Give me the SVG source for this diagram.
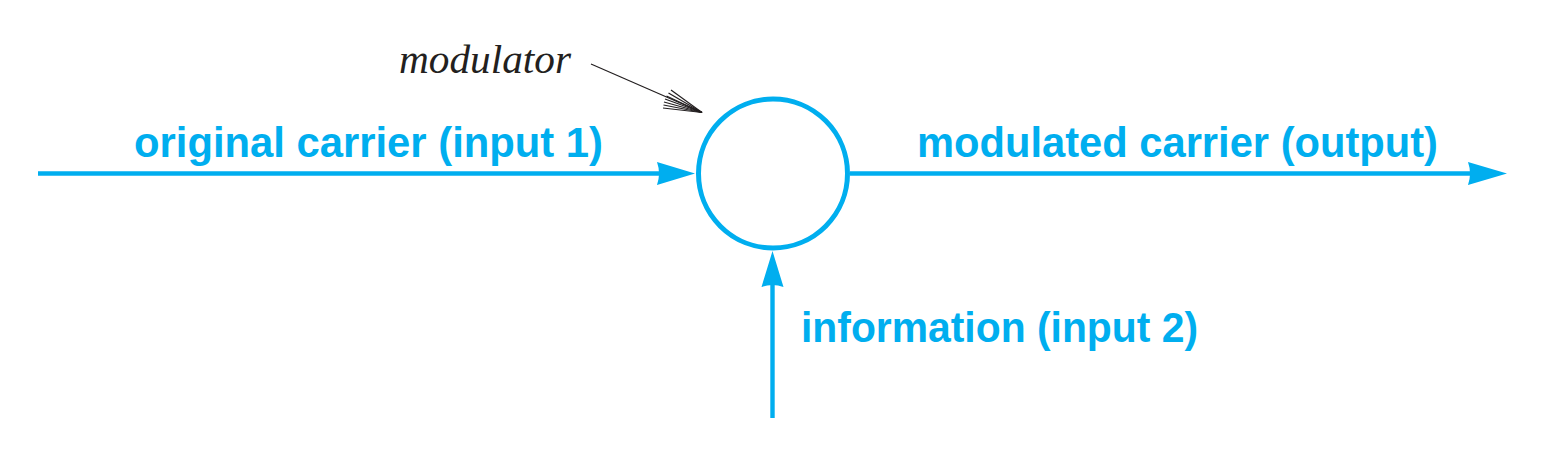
<svg xmlns="http://www.w3.org/2000/svg" width="1565" height="453" viewBox="0 0 1565 453">
<style>
.wire{stroke:#00AEEF;stroke-width:4.4;fill:none}
.head{fill:#00AEEF;stroke:none}
.lbl{font-family:"Liberation Sans",Arial,Helvetica,sans-serif;font-weight:bold;font-size:42px;fill:#00AEEF}
.ital{font-family:"Liberation Serif","Times New Roman",serif;font-style:italic;font-size:40px;fill:#231F20}
.thin{stroke:#231F20;stroke-width:1.2;fill:none}
</style>
<rect width="1565" height="453" fill="#ffffff"/>
<g id="connectors">
  <g id="input1">
    <line class="wire" x1="38" y1="173.5" x2="662" y2="173.5"/>
    <path class="head" d="M695,173.5 L657,162 Q661,173.5 657,185 Z"/>
  </g>
  <g id="output">
    <line class="wire" x1="850" y1="173.5" x2="1472" y2="173.5"/>
    <path class="head" d="M1507,173.5 L1468,162 Q1472,173.5 1468,185 Z"/>
  </g>
  <g id="input2">
    <line class="wire" x1="772.5" y1="418" x2="772.5" y2="284"/>
    <path class="head" d="M772.5,251 L761.5,287 Q772.5,283 783.5,287 Z"/>
  </g>
  <g id="modulator-pointer">
    <line class="thin" x1="591" y1="64" x2="702" y2="112.5"/>
    <line class="thin" x1="702" y1="112.5" x2="671" y2="90"/>
    <line class="thin" x1="702" y1="112.5" x2="668.5" y2="93"/>
    <line class="thin" x1="702" y1="112.5" x2="666.5" y2="96"/>
    <line class="thin" x1="702" y1="112.5" x2="665" y2="99"/>
    <line class="thin" x1="702" y1="112.5" x2="664" y2="102"/>
    <line class="thin" x1="702" y1="112.5" x2="663.5" y2="105"/>
    <line class="thin" x1="702" y1="112.5" x2="663" y2="108"/>
  </g>
</g>
<g id="modulator">
  <circle cx="773" cy="173.5" r="74.5" fill="#ffffff" stroke="#00AEEF" stroke-width="5"/>
</g>
<g id="labels">
  <text class="ital" x="399" y="73" textLength="172" lengthAdjust="spacingAndGlyphs">modulator</text>
  <text class="lbl" x="134" y="157" textLength="469" lengthAdjust="spacingAndGlyphs">original carrier (input 1)</text>
  <text class="lbl" x="917" y="157" textLength="521" lengthAdjust="spacingAndGlyphs">modulated carrier (output)</text>
  <text class="lbl" x="801" y="342" textLength="397" lengthAdjust="spacingAndGlyphs">information (input 2)</text>
</g>
</svg>
